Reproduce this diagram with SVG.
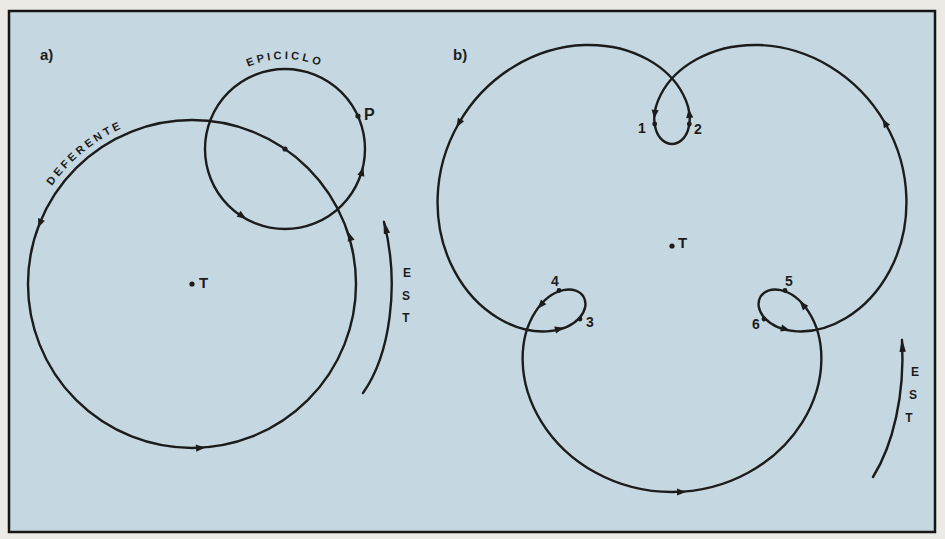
<svg xmlns="http://www.w3.org/2000/svg" width="945" height="539" viewBox="0 0 945 539">
<defs>
<style>
.ln{fill:none;stroke:#1c1c1c;stroke-width:2.4;stroke-linecap:round;stroke-linejoin:round}
.lbl{font-family:"Liberation Sans",Arial,sans-serif;font-weight:bold;fill:#1c1c1c}
.dot{fill:#1c1c1c}
</style>
<path id="ah" d="M5,0 L-4,-3.6 L-4,3.6 Z" fill="#1c1c1c"/>
<marker id="est" markerUnits="userSpaceOnUse" markerWidth="16" markerHeight="10" refX="12" refY="4" orient="auto"><path d="M0,0.8 L14,4 L0,7.2 Z" fill="#1c1c1c"/></marker>
<path id="defPath" d="M51.93,185.92 A171,171 0 0 1 162.31,115.60"/>
<path id="epiPath" d="M216.06,91.15 A90,90 0 0 1 353.94,91.15"/>
</defs>
<rect x="0" y="0" width="945" height="539" fill="#ebeae5"/>
<g id="frame"><rect x="9" y="11" width="926" height="521" fill="#c5d8e1" stroke="#151515" stroke-width="2.5"/></g>

<g id="panel-a">
<text class="lbl" x="40" y="60" font-size="15">a)</text>
<g id="deferente">
<circle class="ln" cx="192" cy="284" r="164"/>
<text class="lbl" font-size="11" letter-spacing="3"><textPath href="#defPath">DEFERENTE</textPath></text>
<use href="#ah" transform="translate(350,237) rotate(-106.6)"/>
<use href="#ah" transform="translate(200,448) rotate(-3)"/>
<use href="#ah" transform="translate(40,223) rotate(112)"/>
</g>
<g id="epiciclo">
<circle class="ln" cx="285" cy="149" r="80"/>
<text class="lbl" font-size="11" letter-spacing="3"><textPath href="#epiPath" startOffset="50%" text-anchor="middle">EPICICLO</textPath></text>
<use href="#ah" transform="translate(362,172) rotate(-73.4)"/>
<use href="#ah" transform="translate(242,216) rotate(32.7)"/>
<circle class="dot" cx="285" cy="149" r="2.6"/>
<circle class="dot" cx="358" cy="116" r="2.6"/>
<text class="lbl" x="364" y="120" font-size="16">P</text>
</g>
<g id="terra-a">
<circle class="dot" cx="192" cy="284" r="2.6"/>
<text class="lbl" x="199" y="288" font-size="15">T</text>
</g>
<g id="est-a">
<path class="ln" d="M363,393 C390,355 400,285 384,222" marker-end="url(#est)"/>
<text class="lbl" font-size="12" text-anchor="middle" x="407" y="277">E</text>
<text class="lbl" font-size="12" text-anchor="middle" x="406" y="300">S</text>
<text class="lbl" font-size="12" text-anchor="middle" x="406" y="322">T</text>
</g>
</g>

<g id="panel-b">
<text class="lbl" x="453" y="60" font-size="15">b)</text>
<g id="orbita">
<path class="ln" d="M846,318 C862.76,307.88 878.56,291.67 889.64,270.93 C900.72,250.19 906.97,225.00 906.42,198.99 C905.87,172.98 898.48,146.28 885.04,123 C871.60,99.72 852.17,79.98 829.92,66.49 C807.67,53.00 782.72,45.83 759.22,45.05 C735.72,44.27 713.79,49.86 696.65,59.31 C679.51,68.76 667.20,81.95 660.60,94.99 C654.00,108.03 653.07,120.78 655.94,129.79 C658.81,138.80 665.37,144 672,144 C678.63,144 685.19,138.80 688.06,129.79 C690.93,120.78 690.00,108.03 683.40,94.99 C676.80,81.95 664.49,68.76 647.35,59.31 C630.21,49.86 608.28,44.27 584.78,45.05 C561.28,45.83 536.33,53.00 514.08,66.49 C491.83,79.98 472.40,99.72 458.96,123 C445.52,146.28 438.13,172.98 437.58,198.99 C437.03,225.00 443.28,250.19 454.36,270.93 C465.44,291.67 481.24,307.88 498,318 C514.76,328.12 532.33,332.17 546.92,331.37 C561.51,330.57 573.03,325.00 579.40,318.01 C585.77,311.02 586.98,302.74 583.66,297 C580.34,291.26 572.58,288.17 563.34,290.19 C554.10,292.21 543.51,299.39 535.52,311.63 C527.53,323.87 522.26,341.12 522.65,360.69 C523.04,380.26 529.16,402.05 541.58,422.01 C554.00,441.97 572.70,459.98 595.50,472.51 C618.30,485.04 645.12,492 672,492 C698.88,492 725.70,485.04 748.50,472.51 C771.30,459.98 790.00,441.97 802.42,422.01 C814.84,402.05 820.96,380.26 821.35,360.69 C821.74,341.12 816.47,323.87 808.48,311.63 C800.49,299.39 789.90,292.21 780.66,290.19 C771.42,288.17 763.66,291.26 760.34,297 C757.02,302.74 758.23,311.02 764.60,318.01 C770.97,325.00 782.49,330.57 797.08,331.37 C811.67,332.17 829.24,328.12 846,318 Z"/>
<use href="#ah" transform="translate(885,123) rotate(-120)"/>
<use href="#ah" transform="translate(459,123) rotate(120)"/>
<use href="#ah" transform="translate(681,492) rotate(0)"/>
<use href="#ah" transform="translate(654.7,113.9) rotate(96.7)"/>
<use href="#ah" transform="translate(689.3,113.9) rotate(-96.7)"/>
<use href="#ah" transform="translate(559,329) rotate(-15)"/>
<use href="#ah" transform="translate(541,305) rotate(131)"/>
<use href="#ah" transform="translate(785,329) rotate(15)"/>
<use href="#ah" transform="translate(803,305) rotate(-131)"/>
<circle class="dot" cx="654.7" cy="124" r="2.4"/>
<circle class="dot" cx="689.3" cy="124" r="2.4"/>
<circle class="dot" cx="580" cy="319" r="2.4"/>
<circle class="dot" cx="559" cy="290.5" r="2.4"/>
<circle class="dot" cx="785" cy="290.5" r="2.4"/>
<circle class="dot" cx="764" cy="319" r="2.4"/>
<text class="lbl" font-size="14" text-anchor="middle" x="642" y="133">1</text>
<text class="lbl" font-size="14" text-anchor="middle" x="698" y="134">2</text>
<text class="lbl" font-size="14" text-anchor="middle" x="590" y="327">3</text>
<text class="lbl" font-size="14" text-anchor="middle" x="555" y="286">4</text>
<text class="lbl" font-size="14" text-anchor="middle" x="789" y="286">5</text>
<text class="lbl" font-size="14" text-anchor="middle" x="756" y="329">6</text>
</g>
<g id="terra-b">
<circle class="dot" cx="672" cy="246" r="2.6"/>
<text class="lbl" x="678" y="248" font-size="15">T</text>
</g>
<g id="est-b">
<path class="ln" d="M873,477 C893,445 905,395 902,340" marker-end="url(#est)"/>
<text class="lbl" font-size="12" text-anchor="middle" x="915" y="376">E</text>
<text class="lbl" font-size="12" text-anchor="middle" x="913" y="399">S</text>
<text class="lbl" font-size="12" text-anchor="middle" x="909" y="422">T</text>
</g>
</g>
</svg>
